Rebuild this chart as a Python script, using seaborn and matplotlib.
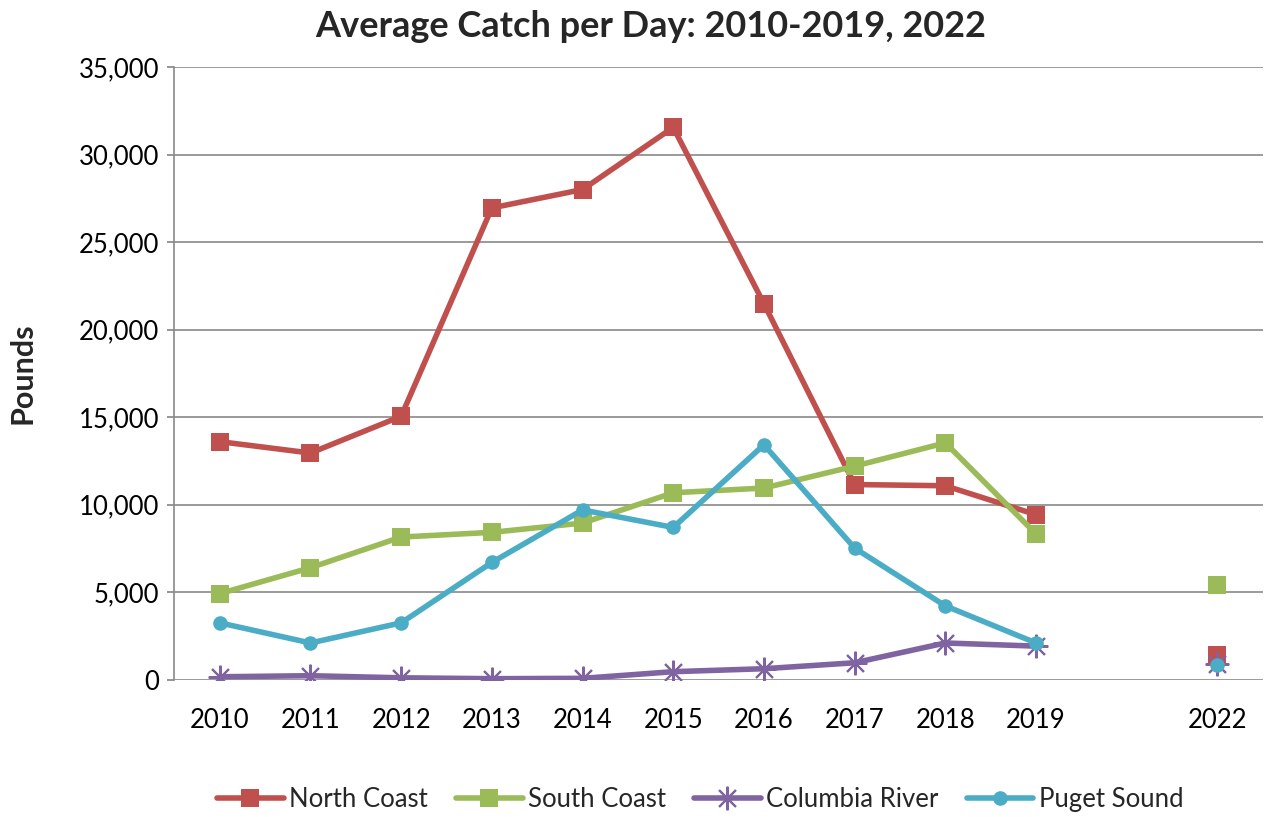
import matplotlib.pyplot as plt
import matplotlib.ticker as mticker
import pandas as pd
import seaborn as sns

sns.set_theme(style="white")
plt.rcParams["font.family"] = ["Lato", "DejaVu Sans"]

#years on the axis, 2020-2021 left out (empty slot)
years = ["2010", "2011", "2012", "2013", "2014", "2015", "2016", "2017", "2018", "2019", "", "2022"]

north_coast = [13600, 12950, 15050, 26950, 28000, 31550, 21480, 11150, 11080, 9430, None, 1430]
south_coast = [4920, 6400, 8150, 8420, 8950, 10680, 10950, 12200, 13530, 8330, None, 5420]
columbia_river = [170, 230, 110, 60, 80, 460, 630, 970, 2100, 1920, None, 910]
puget_sound = [3250, 2100, 3250, 6700, 9700, 8700, 13420, 7520, 4220, 2100, None, 860]

series = {
    "North Coast": north_coast,
    "South Coast": south_coast,
    "Columbia River": columbia_river,
    "Puget Sound": puget_sound,
}
colors = {"North Coast": "#C0504D", "South Coast": "#9BBB59",
          "Columbia River": "#8064A2", "Puget Sound": "#4BACC6"}
markers = {"North Coast": "s", "South Coast": "s",
           "Columbia River": (8, 2, 0), "Puget Sound": "o"}
msizes = {"North Coast": 12.5, "South Coast": 12.5, "Columbia River": 17, "Puget Sound": 10.5}

fig, ax = plt.subplots(figsize=(12.64, 8.17), dpi=100)

for name, vals in series.items():
    df = pd.DataFrame({"x": range(len(years)), "y": vals}).dropna()
    main = df[df["x"] <= 9]
    last = df[df["x"] > 9]
    mk = markers[name]
    mew = 1.5 if name == "Columbia River" else 0
    sns.lineplot(data=main, x="x", y="y", ax=ax, color=colors[name], linewidth=4,
                 marker=mk, markersize=msizes[name], markeredgewidth=mew,
                 markeredgecolor=colors[name], label=name)
    #2022 point, not joined to 2019
    ax.plot(last["x"], last["y"], linestyle="none", marker=mk, markersize=msizes[name],
            color=colors[name], markeredgewidth=mew, markeredgecolor=colors[name])

ax.set_xlim(-0.5, 11.5)
ax.set_ylim(0, 35000)
ax.set_xticks(range(len(years)))
ax.set_xticklabels(years)
ax.set_yticks(range(0, 35001, 5000))
ax.yaxis.set_major_formatter(mticker.StrMethodFormatter("{x:,.0f}"))
ax.tick_params(axis="both", labelsize=18.5, colors="black")
ax.tick_params(axis="y", length=5, color="#898989", left=True, pad=6)
ax.tick_params(axis="x", length=0, pad=20)

ax.grid(axis="y", color="#898989", linewidth=1.2)
ax.set_axisbelow(True)
for s in ["top", "right", "bottom"]:
    ax.spines[s].set_visible(False)
ax.spines["left"].set_color("#898989")
ax.spines["left"].set_linewidth(1.2)

ax.set_xlabel("")
ax.set_ylabel("Pounds", fontsize=22, fontweight="bold", labelpad=30)
fig.suptitle("Average Catch per Day: 2010-2019, 2022", x=0.515, y=0.988,
             fontsize=26, fontweight="bold")

ax.legend(loc="center", bbox_to_anchor=(0.483, -0.196), ncol=4, frameon=False,
          fontsize=18.5, handlelength=2.6, columnspacing=1.1, handletextpad=0.2,
          borderpad=0)

plt.subplots_adjust(left=0.138, right=0.999, top=0.918, bottom=0.168)
plt.savefig("out.png", dpi=100)
